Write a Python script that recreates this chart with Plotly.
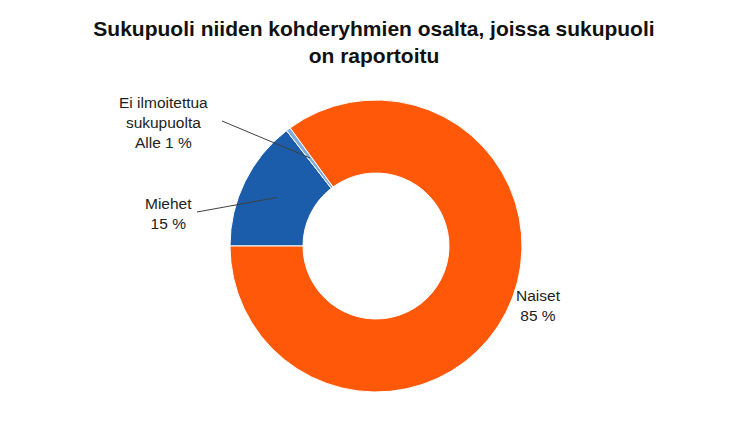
import math
import plotly.graph_objects as go

# Data
labels = ["Miehet", "Ei ilmoitettua sukupuolta", "Naiset"]
values = [14.5, 0.5, 85.0]
pct_text = ["15 %", "Alle 1 %", "85 %"]
label_text = ["Miehet", "Ei ilmoitettua<br>sukupuolta", "Naiset"]
colors = ["#1B5DAA", "#7FAEDD", "#FF5808"]

W, H = 750, 436
cx, cy, R = 376, 246, 146  # pixel centre and radius (layout)

fig = go.Figure(go.Pie(
    labels=labels, values=values, sort=False, direction="clockwise",
    rotation=-90, hole=0.5, textinfo="none", hoverinfo="label+percent",
    marker=dict(colors=colors, line=dict(color="white", width=1)),
    domain=dict(x=[(cx - R) / W, (cx + R) / W], y=[(H - cy - R) / H, (H - cy + R) / H]),
    showlegend=False,
))

# label positions (layout) and leader line starts
label_pos = [(168, 213), (163, 122), (538, 305)]
line_start = [(197, 212), (222, 121), None]

total = sum(values)
cum = 0.0
shapes = []
annotations = []
for i, v in enumerate(values):
    mid = -90 + (cum + v / 2) / total * 360  # degrees clockwise from top
    cum += v
    r = 0.755 * R
    px = cx + r * math.sin(math.radians(mid))
    py = cy - r * math.cos(math.radians(mid))
    if line_start[i] is not None:
        sx, sy = line_start[i]
        shapes.append(dict(type="line", xref="paper", yref="paper",
                           x0=sx / W, y0=1 - sy / H, x1=px / W, y1=1 - py / H,
                           line=dict(color="#404040", width=1)))
    lx, ly = label_pos[i]
    annotations.append(dict(text=label_text[i] + "<br>" + pct_text[i],
                            x=lx / W, y=1 - ly / H, xref="paper", yref="paper",
                            xanchor="center", yanchor="middle",
                            showarrow=False, align="center",
                            font=dict(family="Liberation Sans, Arial", size=15.5, color="#222222")))

fig.update_layout(
    width=W, height=H,
    margin=dict(l=0, r=0, t=0, b=0),
    paper_bgcolor="white", plot_bgcolor="white",
    title=dict(text="<b>Sukupuoli niiden kohderyhmien osalta, joissa sukupuoli<br>on raportoitu</b>",
               x=374 / W, xanchor="center", y=1 - 36 / H, yanchor="middle",
               font=dict(family="Liberation Sans, Arial", size=21, color="#111111")),
    shapes=shapes, annotations=annotations,
)

fig.write_html("out.html", config={"displayModeBar": False},
               post_script="document.body.style.margin='0';document.body.style.overflow='hidden';")
